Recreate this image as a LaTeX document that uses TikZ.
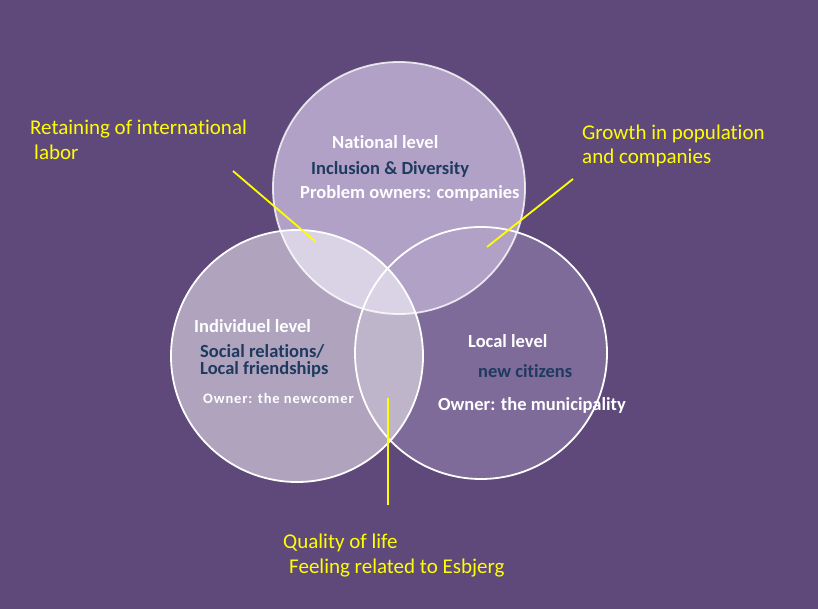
\documentclass[tikz,border=0pt]{standalone}
\usepackage{fontspec}
\setmainfont{Carlito}[Ligatures=NoCommon]
\newfontfamily\spacedfont[LetterSpace=6,Ligatures=NoCommon]{Carlito}
\definecolor{bgc}{HTML}{5F497A}
\definecolor{topc}{HTML}{B1A1C7}
\definecolor{leftc}{HTML}{AFA3BD}
\definecolor{rightc}{HTML}{7F6B9A}
\definecolor{tlc}{HTML}{DAD3E5}
\definecolor{lrc}{HTML}{BEB5CB}
\definecolor{navyc}{HTML}{1F3A5F}
\definecolor{yel}{HTML}{FFFF00}
\tikzset{
  lvl/.style={anchor=base west, inner sep=0pt, text=white, font=\fontsize{18.5}{22}\selectfont\bfseries},
  sub/.style={anchor=base west, inner sep=0pt, text=navyc, font=\fontsize{18.5}{22}\selectfont\bfseries},
  own/.style={anchor=base west, inner sep=0pt, text=white, font=\fontsize{14.5}{18}\selectfont\spacedfont\bfseries},
  note/.style={anchor=base west, inner sep=0pt, text=yel, font=\fontsize{21}{25}\selectfont},
  ring/.style={draw=white, line width=1.8pt},
  pointer/.style={draw=yel, line width=1.8pt}
}
\begin{document}
\begin{tikzpicture}[x=1pt,y=-1pt]
\fill[bgc] (0,0) rectangle (818,609);
\useasboundingbox (0,0) rectangle (818,609);
\coordinate (T) at (399,188);
\coordinate (L) at (297,356);
\coordinate (R) at (481,353);
% fills
\fill[rightc] (R) circle (126pt);
\fill[leftc] (L) circle (126pt);
\begin{scope}
  \clip (L) circle (126pt);
  \fill[lrc] (R) circle (126pt);
\end{scope}
\fill[topc] (T) circle (126pt);
\begin{scope}
  \clip (L) circle (126pt);
  \fill[tlc] (T) circle (126pt);
\end{scope}
% outlines
\draw[ring] (R) circle (126pt);
\draw[ring] (L) circle (126pt);
\draw[ring, draw opacity=0.8] (T) circle (126pt);
% circle texts
\node[lvl] (nat) at (332,149) {National level};
\node[sub] (incl) at (311,175) {Inclusion \& Diversity};
\node[lvl] (prob) at (300,199) {Problem owners: companies};
\node[lvl] (ind) at (194,332) {Individuel level};
\node[sub] (soc) at (200,357) {Social relations/};
\node[sub] (fri) at (200,374) {Local friendships};
\node[own] (newc) at (203,403) {Owner: the newcomer};
\node[lvl] (loc) at (468,347) {Local level};
\node[sub] (cit) at (478,377) {new citizens};
\node[lvl] (mun) at (438,410) {Owner: the municipality};
% yellow notes
\node[note] (ret1) at (30,135) {Retaining of international};
\node[note] (ret2) at (34,160) {labor};
\node[note] (gro1) at (582,140) {Growth in population};
\node[note] (gro2) at (582,164) {and companies};
\node[note] (qua1) at (283,548) {Quality of life};
\node[note] (qua2) at (289,573) {Feeling related to Esbjerg};
% pointers
\coordinate (p1a) at (233,171);
\coordinate (p1b) at (316,242);
\coordinate (p2a) at (573,179);
\coordinate (p2b) at (487,247);
\coordinate (p3a) at (388,398);
\coordinate (p3b) at (388,505);
\draw[pointer] (p1a) -- (p1b);
\draw[pointer] (p2a) -- (p2b);
\draw[pointer] (p3a) -- (p3b);
\end{tikzpicture}
\end{document}
